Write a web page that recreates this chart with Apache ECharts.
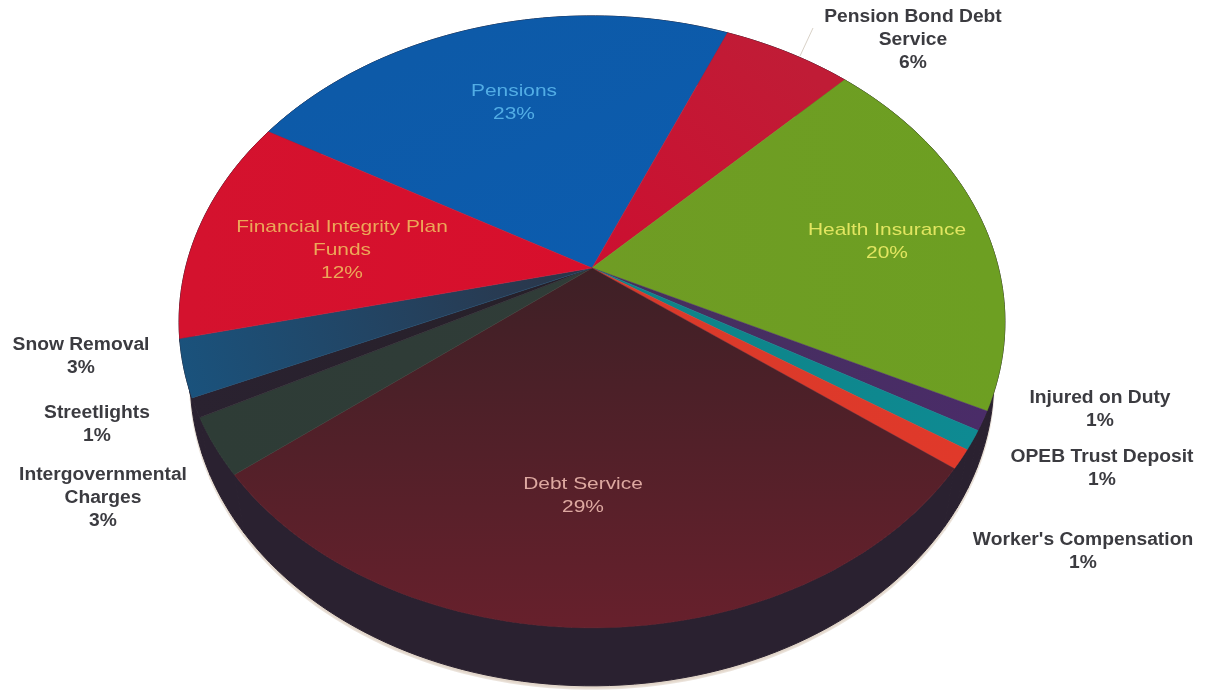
<!DOCTYPE html>
<html>
<head>
<meta charset="utf-8">
<style>html,body{margin:0;padding:0;background:#fff}#chart{width:1206px;height:698px}</style>
<script src="https://cdn.jsdelivr.net/npm/echarts@6/dist/echarts.min.js"></script>
</head>
<body>
<div id="chart"></div>
<script>
// Budget shares, clockwise from the Pensions slice
const categories = ['Pensions', 'Pension Bond Debt\nService', 'Health Insurance', 'Injured on Duty',
  'OPEB Trust Deposit', "Worker's Compensation", 'Debt Service', 'Intergovernmental\nCharges',
  'Streetlights', 'Snow Removal', 'Financial Integrity Plan\nFunds'];
const shares = [23, 6, 20, 1, 1, 1, 29, 3, 1, 3, 12];

// Slice fills: [colour towards the hub, colour towards the rim]
const fills = [
  ['#0c5cae', '#0d5aa8'], ['#cc0f30', '#c01c36'], ['#6f9c24', '#6d9f22'], ['#44305c', '#4a2c68'],
  ['#0e8286', '#0e8a92'], ['#d83a2a', '#e0392a'], ['#3e2026', '#67202c'], ['#303c38', '#2e3c36'],
  ['#262028', '#2a2230'], ['#2c3446', '#1a527c'], ['#d80f2c', '#d4122e']
];
const labelColors = ['#58b4ea', '#3b3b40', '#ecec66', '#3b3b40', '#3b3b40', '#3b3b40',
  '#e8b4aa', '#3b3b40', '#3b3b40', '#3b3b40', '#eeb45c'];
// Label centres on the page
const labelCenters = [[514, 103], [913, 40], [887, 242], [1100, 410], [1102, 469], [1083, 552],
  [583, 496], [103, 498], [97, 425], [81, 357], [342, 250]];
const insideLabels = [0, 2, 6, 10];

// Tilted disc: hub position, radii, perspective strength, rim depth, underside narrowing
const disc = { cx: 592, cy: 268, a: 406.5, b: 296.5, k: 0.176, depth: 58, start: 300, taper: 0.973 };
const wallColor = '#2a2130';

function rimPoint(deg, lowered) {
  const t = deg * Math.PI / 180, u = Math.sin(t), v = -Math.cos(t), w = 1 - disc.k * v;
  const sx = lowered ? disc.taper : 1;
  return [disc.cx + sx * disc.a * u / w, disc.cy + disc.b * v / w + (lowered || 0)];
}
function arc(from, to, lowered) {
  const pts = [], n = Math.max(4, Math.ceil((to - from) / 1.5));
  for (let i = 0; i <= n; i++) pts.push(rimPoint(from + (to - from) * i / n, lowered));
  return pts;
}
const total = shares.reduce((s, v) => s + v, 0);
function sweep(i) {
  let acc = 0;
  for (let j = 0; j < i; j++) acc += shares[j];
  return [disc.start + acc / total * 360, disc.start + (acc + shares[i]) / total * 360];
}

// Faint halo along the lower rim
function renderHalo(params) {
  const [from, to] = sweep(params.dataIndex);
  const lower = arc(from, to, disc.depth + 3);
  return { type: 'polygon', shape: { points: [[disc.cx, disc.cy + disc.depth]].concat(lower) },
    style: { fill: '#d9cabb', stroke: '#e6dcd2', lineWidth: 2, opacity: 0.8 }, silent: true };
}
// Side of the disc, drawn before the top faces cover its back half
function renderWall(params) {
  const [from, to] = sweep(params.dataIndex);
  const top = arc(from, to, 0), low = arc(from, to, disc.depth).reverse();
  return { type: 'polygon', shape: { points: top.concat(low) },
    style: { fill: wallColor, stroke: wallColor, lineWidth: 1 }, silent: true };
}
function renderSlice(params) {
  const i = params.dataIndex, [from, to] = sweep(i), hub = [disc.cx, disc.cy];
  const mid = rimPoint((from + to) / 2);
  const fill = new echarts.graphic.LinearGradient(hub[0], hub[1], mid[0], mid[1], [
    { offset: 0, color: fills[i][0] }, { offset: 1, color: fills[i][1] }
  ], true);
  return { type: 'polygon', shape: { points: [hub].concat(arc(from, to, 0)) },
    style: { fill: fill, stroke: fills[i][1], lineWidth: 0.5 }, silent: true };
}
function renderLabel(params) {
  const i = params.dataIndex, inside = insideLabels.includes(i);
  return { type: 'text', x: labelCenters[i][0], y: labelCenters[i][1], silent: true,
    scaleX: inside ? 1.23 : 1.1,
    style: { text: categories[i] + '\n' + shares[i] + '%', fill: labelColors[i],
      font: (inside ? '17px' : 'bold 17.5px') + ' "Liberation Sans", Arial, sans-serif',
      align: 'center', verticalAlign: 'middle', lineHeight: 23, opacity: inside ? 0.92 : 1 } };
}

const chart = echarts.init(document.getElementById('chart'), null, { renderer: 'canvas' });
const rows = shares.map((v, i) => [i, v]);
const layer = (fn, z) => ({ type: 'custom', coordinateSystem: 'none', renderItem: fn, data: rows, z: z, animation: false });
chart.setOption({
  backgroundColor: '#ffffff',
  animation: false,
  // Thin leader from the Pension Bond Debt Service label to its slice
  graphic: [{ type: 'line', silent: true, shape: { x1: 813, y1: 28, x2: 800, y2: 56 },
    style: { stroke: '#d9d2c8', lineWidth: 1 } }],
  series: [layer(renderHalo, 1), layer(renderWall, 2), layer(renderSlice, 3), layer(renderLabel, 4)]
});
</script>
</body>
</html>
